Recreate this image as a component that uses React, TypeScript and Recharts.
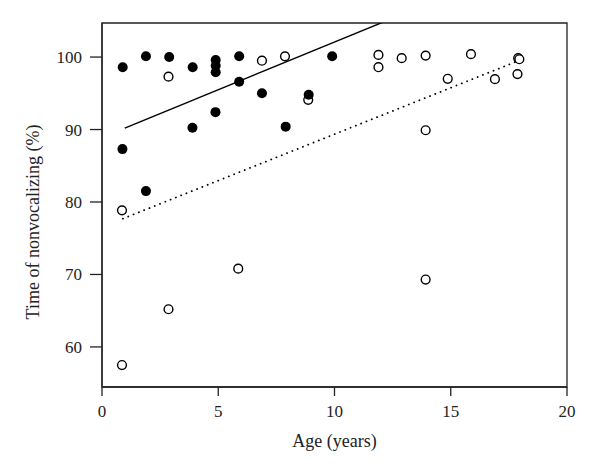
import React from 'react';
import {
  ScatterChart,
  Scatter,
  XAxis,
  YAxis,
  ReferenceLine,
  ReferenceArea
} from 'recharts';

// Filled circles
const filledAge = [0.89, 1.89, 2.89, 3.9, 4.89, 4.89, 4.89, 5.9, 5.9, 6.88, 4.88, 3.89, 7.9, 8.89, 9.9, 0.88, 1.89];
const filledTime = [98.6, 100.1, 100.0, 98.6, 99.6, 98.8, 97.9, 100.1, 96.6, 95.0, 92.4, 90.25, 90.4, 94.8, 100.1, 87.3, 81.5];

// Open circles
const openAge = [2.86, 6.88, 7.87, 8.87, 0.86, 2.86, 5.86, 0.86, 11.89, 11.89, 12.89, 13.92, 13.92, 13.92, 14.87, 15.87, 16.9, 17.9, 17.95, 17.87];
const openTime = [97.3, 99.5, 100.1, 94.1, 78.85, 65.2, 70.8, 57.5, 100.3, 98.6, 99.85, 100.2, 89.9, 69.3, 97.0, 100.4, 96.95, 99.85, 99.7, 97.65];

// Fit lines (start / end)
const solidFitAge = [0.98, 17.85];
const solidFitTime = [90.2, 112.4];
const dottedFitAge = [0.9, 17.84];
const dottedFitTime = [77.7, 99.4];

const xTicks = [0, 5, 10, 15, 20];
const yTicks = [60, 70, 80, 90, 100];
const xDomain = [0, 20];
const yDomain = [54.47, 104.7];

const filledData = filledAge.map((x, i) => ({ x, y: filledTime[i] }));
const openData = openAge.map((x, i) => ({ x, y: openTime[i] }));

const FONT = '"Liberation Serif", "DejaVu Serif", serif';
const INK = '#222';

const FilledDot = (props: any) => (
  <circle cx={props.cx} cy={props.cy} r={5} fill="#000" />
);

const OpenDot = (props: any) => (
  <circle cx={props.cx} cy={props.cy} r={4.4} fill="#fff" stroke="#000" strokeWidth={1.4} />
);

const App: React.FC = () => {
  return (
    <div style={{ position: 'absolute', left: 0, top: 0, background: '#fff' }}>
      <ScatterChart
        width={600}
        height={472}
        margin={{ top: 23, right: 33, left: 0, bottom: 0 }}
      >
        <XAxis
          type="number"
          dataKey="x"
          domain={xDomain}
          ticks={xTicks}
          allowDataOverflow
          height={85}
          tickSize={9}
          tickMargin={9}
          stroke={INK}
          strokeWidth={1.3}
          tick={{ fill: '#222', fontFamily: FONT, fontSize: 17 }}
          label={{
            content: () => (
              <text x={334.5} y={447} textAnchor="middle" fontFamily={FONT} fontSize={18} fill="#222">
                Age (years)
              </text>
            )
          }}
        />
        <YAxis
          type="number"
          dataKey="y"
          domain={yDomain}
          ticks={yTicks}
          allowDataOverflow
          width={102}
          tickSize={12}
          tickMargin={8}
          stroke={INK}
          strokeWidth={1.3}
          tick={{ fill: '#222', fontFamily: FONT, fontSize: 17 }}
          label={{
            content: () => (
              <text
                x={33}
                y={222}
                transform="rotate(-90 33 222)"
                textAnchor="middle"
                dominantBaseline="central"
                fontFamily={FONT}
                fontSize={18}
                fill="#222"
              >
                Time of nonvocalizing (%)
              </text>
            )
          }}
        />
        <ReferenceArea
          x1={xDomain[0]}
          x2={xDomain[1]}
          y1={yDomain[0]}
          y2={yDomain[1]}
          fill="none"
          fillOpacity={0}
          stroke={INK}
          strokeWidth={1.3}
          ifOverflow="visible"
        />
        <ReferenceLine
          segment={[
            { x: solidFitAge[0], y: solidFitTime[0] },
            { x: solidFitAge[1], y: solidFitTime[1] }
          ]}
          stroke="#000"
          strokeWidth={1.4}
          ifOverflow="hidden"
        />
        <ReferenceLine
          segment={[
            { x: dottedFitAge[0], y: dottedFitTime[0] },
            { x: dottedFitAge[1], y: dottedFitTime[1] }
          ]}
          stroke="#000"
          strokeWidth={1.8}
          strokeDasharray="0.1 5.6"
          strokeLinecap="round"
          ifOverflow="hidden"
        />
        <Scatter data={openData} shape={OpenDot} isAnimationActive={false} />
        <Scatter data={filledData} shape={FilledDot} isAnimationActive={false} />
      </ScatterChart>
    </div>
  );
};

export default App;
